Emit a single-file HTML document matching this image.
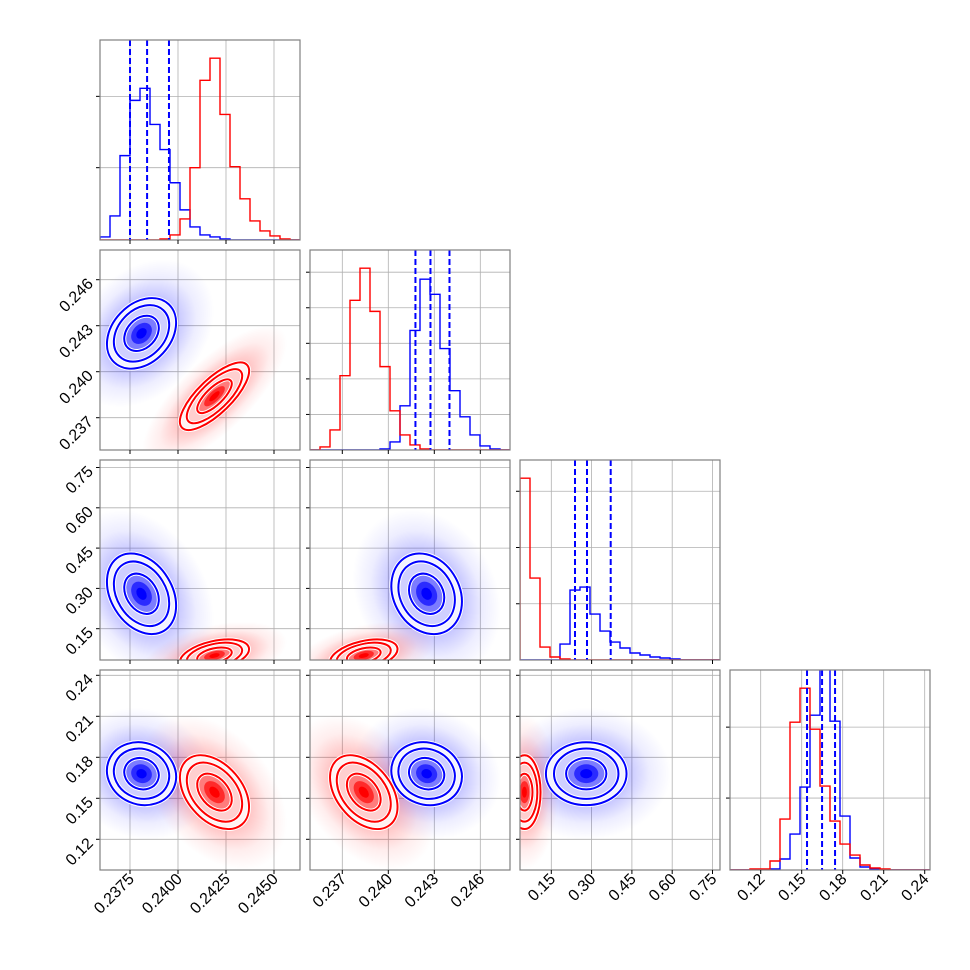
<!DOCTYPE html>
<html><head><meta charset="utf-8"><style>
html,body{margin:0;padding:0;background:#fff;}
svg{display:block;font-family:"Liberation Sans",sans-serif;}
</style></head><body>
<svg id="fig" width="970" height="970" viewBox="0 0 970 970" xmlns="http://www.w3.org/2000/svg"></svg>
<script>
// ---------- data ----------
const blueHist0=[3,24,84,139,151,115,90,57,30,13,5,3,1,0,0,0,0,0,0,0];
const redHist0 =[0,0,0,0,0,0,1,5,21,72,159,181,125,73,41,19,9,4,1,0];
const blueHist1=[0,0,0,0,0,0,0,1,8,44,119,170,155,101,59,33,15,4,1,0];
const redHist1 =[0,3,20,74,149,181,138,83,39,15,5,1,0,0,0,0,0,0,0,0];
const blueHist2=[0,0,0,0,16,70,73,46,29,18,12,7,5,3,2,1,0,0,0,0];
const redHist2 =[182,82,13,3,1,0,0,0,0,0,0,0,0,0,0,0,0,0,0,0];
const blueHist3=[0,0,0,0,1,11,36,83,155,215,149,54,12,3,1,0,0,0,0,0];
const redHist3 =[0,0,1,1,9,51,148,182,141,84,49,26,15,5,2,1,0,0,0,0];
const blueQuant0=[0.2375,0.23839,0.23953];
const blueQuant1=[0.24177,0.24275,0.24399];
const blueQuant2=[0.2382,0.2829,0.3711];
const blueQuant3=[0.1539,0.1649,0.1744];
const ticks0=[0.2375,0.2400,0.2425,0.2450];
const ticks1=[0.237,0.240,0.243,0.246];
const ticks2=[0.15,0.30,0.45,0.60,0.75];
const ticks3=[0.12,0.15,0.18,0.21,0.24];
const tickLabels0=["0.2375","0.2400","0.2425","0.2450"];
const tickLabels1=["0.237","0.240","0.243","0.246"];
const tickLabels2=["0.15","0.30","0.45","0.60","0.75"];
const tickLabels3=["0.12","0.15","0.18","0.21","0.24"];
const diagTicks0=[72,143];
const diagTicks1=[35.4,70.8,106.2,141.6,177];
const diagTicks2=[56.3,112.6,168.9];
const diagTicks3=[72,143];
const blueMean=[0.2381,0.2425,0.28,0.168];
const blueSd=[0.0009,0.00115,0.075,0.0115];
const redMean=[0.2419,0.2384,0.05,0.1545];
const redSd=[0.0009,0.0011,0.03,0.0135];
// correlations [row][col]
const blueCorr=[[1,0.3,-0.3,-0.1],[0.3,1,-0.2,-0.1],[-0.3,-0.2,1,0],[-0.1,-0.1,0,1]];
const redCorr =[[1,0.75,0.4,-0.4],[0.75,1,0.4,-0.4],[0.4,0.4,1,0],[-0.4,-0.4,0,1]];

// ---------- axis setup ----------
const OFF=[30,32.3,31.3,30.7], T0=[0.2375,0.237,0.15,0.12], PPU=[48/0.0025,46/0.003,40.3/0.15,41/0.03];
const hists=[[blueHist0,redHist0],[blueHist1,redHist1],[blueHist2,redHist2],[blueHist3,redHist3]];
const quants=[blueQuant0,blueQuant1,blueQuant2,blueQuant3];
const ticks=[ticks0,ticks1,ticks2,ticks3];
const tickLabels=[tickLabels0,tickLabels1,tickLabels2,tickLabels3];
const diagTicks=[diagTicks0,diagTicks1,diagTicks2,diagTicks3];
const S=200;
function px(k,v){return OFF[k]+(v-T0[k])*PPU[k];}
function PX(c){return 100+210*c;}
function PY(r){return 40+210*r;}
const NS="http://www.w3.org/2000/svg";
const svg=document.getElementById('fig');
function mk(tag,attrs,parent){const e=document.createElementNS(NS,tag);for(const k in attrs)e.setAttribute(k,attrs[k]);(parent||svg).appendChild(e);return e;}
const defs=mk('defs',{});
['blue','red'].forEach(function(col){
  const g=mk('radialGradient',{id:'haze-'+col},defs);
  mk('stop',{offset:'0','stop-color':col,'stop-opacity':'0.4'},g);
  mk('stop',{offset:'0.5','stop-color':col,'stop-opacity':'0.22'},g);
  mk('stop',{offset:'0.75','stop-color':col,'stop-opacity':'0.07'},g);
  mk('stop',{offset:'1','stop-color':col,'stop-opacity':'0'},g);
});

for(let r=0;r<4;r++){
  for(let c=0;c<=r;c++){
    const x0=PX(c),y0=PY(r);
    const cp=mk('clipPath',{id:'clip'+r+c},defs);
    mk('rect',{x:x0,y:y0,width:S,height:S},cp);
    const panel=mk('g',{});
    
    
    const grid=mk('g',{stroke:'#b0b0b0','stroke-width':'0.8'},panel);
    ticks[c].forEach(function(t){const xx=x0+px(c,t);if(xx>=x0&&xx<=x0+S)mk('line',{x1:xx,x2:xx,y1:y0,y2:y0+S},grid);});
    const content=mk('g',{'clip-path':'url(#clip'+r+c+')'},panel);
    if(r===c){
      const k=r;
      const ymax=1.1*Math.max.apply(null,hists[k][1]);
      diagTicks[k].forEach(function(t){const yy=y0+S-t/ymax*S;mk('line',{x1:x0,x2:x0+S,y1:yy,y2:yy},grid);});
      const lo=T0[k]-OFF[k]/PPU[k], hi=lo+S/PPU[k];
      ['blue','red'].forEach(function(col,ci){
        const h=hists[k][ci];const n=h.length;let d='';
        for(let i=0;i<n;i++){
          const xa=x0+px(k,lo+(hi-lo)*i/n), xb=x0+px(k,lo+(hi-lo)*(i+1)/n);
          const yy=y0+S-h[i]/ymax*S;
          d+=(i===0?'M'+xa+','+(y0+S)+'L'+xa+','+yy:'L'+xa+','+yy)+'L'+xb+','+yy;
        }
        d+='L'+(x0+S)+','+(y0+S);
        const p=mk('path',{d:d,fill:'none',stroke:col,'stroke-width':'1.4'},content);
        
        
      });
      quants[k].forEach(function(q,qi){
        const xx=x0+px(k,q);
        const l=mk('line',{x1:xx,x2:xx,y1:y0,y2:y0+S,stroke:'blue','stroke-width':'2','stroke-dasharray':'6,3'},content);
        
        
      });
      diagTicks[k].forEach(function(t){const yy=y0+S-t/ymax*S;mk('line',{x1:x0-4,x2:x0,y1:yy,y2:yy,stroke:'#000','stroke-width':'1'},panel);});
    } else {
      ticks[r].forEach(function(t){const yy=y0+S-px(r,t);if(yy>=y0&&yy<=y0+S)mk('line',{x1:x0,x2:x0+S,y1:yy,y2:yy},grid);});
      const pops=[['blue',blueMean,blueSd,blueCorr],['red',redMean,redSd,redCorr]];
      const geo=pops.map(function(pop){
        const col=pop[0],mean=pop[1],sd=pop[2],cor=pop[3];
        const cx=x0+px(c,mean[c]), cy=y0+S-px(r,mean[r]);
        const sx=sd[c]*PPU[c], sy=sd[r]*PPU[r], b=-cor[r][c]*sx*sy;
        const a=sx*sx,dd=sy*sy;
        const th=0.5*Math.atan2(2*b,a-dd)*180/Math.PI;
        const m=Math.sqrt(((a-dd)/2)*((a-dd)/2)+b*b);
        return {col:col,cx:cx,cy:cy,th:th,rx:Math.sqrt((a+dd)/2+m),ry:Math.sqrt(Math.max((a+dd)/2-m,1))};
      });
      geo.forEach(function(o){
        const g=mk('g',{transform:'translate('+o.cx+','+o.cy+') rotate('+o.th+')'},content);
        
        
        mk('ellipse',{rx:o.rx*4.2,ry:o.ry*4.2,fill:'url(#haze-'+o.col+')'},g);
      });
      geo.forEach(function(o){
        const col=o.col,rx=o.rx,ry=o.ry;
        const g=mk('g',{transform:'translate('+o.cx+','+o.cy+') rotate('+o.th+')'},content);
        
        
        mk('ellipse',{rx:rx*2,ry:ry*2,fill:'#fff'},g);
        mk('ellipse',{rx:rx*2,ry:ry*2,fill:col,'fill-opacity':'0.05'},g);
        mk('ellipse',{rx:rx*1.6,ry:ry*1.6,fill:col,'fill-opacity':'0.14'},g);
        mk('ellipse',{rx:rx*1.0,ry:ry*1.0,fill:col,'fill-opacity':'0.4'},g);
        mk('ellipse',{rx:rx*0.6,ry:ry*0.6,fill:col,'fill-opacity':'0.65'},g);
        mk('ellipse',{rx:rx*0.3,ry:ry*0.3,fill:col,'fill-opacity':'1'},g);
        [1.0,1.6,2.0].forEach(function(s){
          mk('ellipse',{rx:rx*s,ry:ry*s,fill:'none',stroke:'#fff','stroke-width':'4'},g);
          mk('ellipse',{rx:rx*s,ry:ry*s,fill:'none',stroke:col,'stroke-width':'2'},g);
        });
      });
      ticks[r].forEach(function(t){const yy=y0+S-px(r,t);if(yy>=y0&&yy<=y0+S)mk('line',{x1:x0-4,x2:x0,y1:yy,y2:yy,stroke:'#000','stroke-width':'1'},panel);});
      if(c===0){
        ticks[r].forEach(function(t,i){
          const yy=y0+S-px(r,t);if(yy<y0||yy>y0+S)return;
          const tx=mk('text',{x:x0-6,y:yy+5,'text-anchor':'end','font-size':'16',fill:'#000',transform:'rotate(-45 '+(x0-6)+' '+(yy+5)+')'},svg);
          tx.textContent=tickLabels[r][i];
          
          
        });
      }
    }
    mk('rect',{x:x0,y:y0,width:S,height:S,fill:'none',stroke:'#808080','stroke-width':'1.2'},panel);
    ticks[c].forEach(function(t){const xx=x0+px(c,t);if(xx>=x0&&xx<=x0+S)mk('line',{x1:xx,x2:xx,y1:y0+S,y2:y0+S+4,stroke:'#000','stroke-width':'1'},panel);});
    if(r===3){
      ticks[c].forEach(function(t,i){
        const xx=x0+px(c,t);if(xx<x0||xx>x0+S)return;
        const tx=mk('text',{x:xx+5,y:y0+S+10,'text-anchor':'end','font-size':'16',fill:'#000',transform:'rotate(-45 '+(xx+5)+' '+(y0+S+10)+')'},svg);
        tx.textContent=tickLabels[c][i];
        
        
      });
    }
  }
}
</script>
</body></html>
